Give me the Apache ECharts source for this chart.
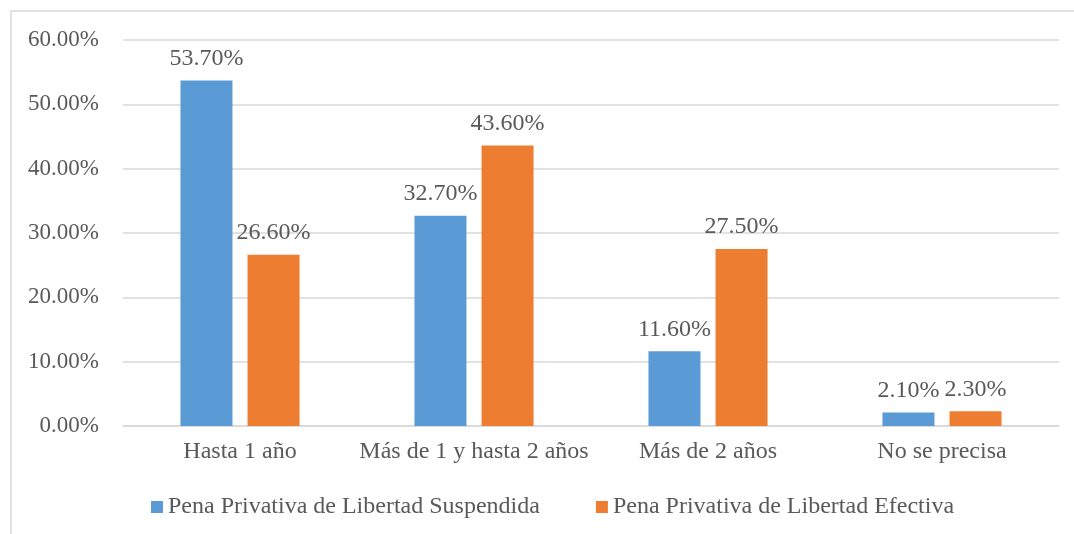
<!DOCTYPE html>
<html>
<head>
<meta charset="utf-8">
<script src="https://cdn.jsdelivr.net/npm/echarts@6/dist/echarts.min.js"></script>
<style>
  html, body { margin: 0; padding: 0; background: #fff; }
  #chart { width: 1074px; height: 534px; }
</style>
</head>
<body>
<div id="chart"></div>
<script>
const categories = ["Hasta 1 año", "Más de 1 y hasta 2 años", "Más de 2 años", "No se precisa"];
const suspendida = [53.7, 32.7, 11.6, 2.1];
const efectiva = [26.6, 43.6, 27.5, 2.3];
const seriesNames = ["Pena Privativa de Libertad Suspendida", "Pena Privativa de Libertad Efectiva"];

const font = "'Liberation Serif', 'Times New Roman', serif";
const textColor = "#595959";

let chart = echarts.init(document.getElementById("chart"));

let label = {
  show: true,
  position: "top",
  distance: 10,
  color: textColor,
  fontFamily: font,
  fontSize: 24,
  formatter: p => p.value.toFixed(2) + "%"
};

let option = {
  animation: false,
  textStyle: { fontFamily: font },
  graphic: [
    {
      type: "rect",
      shape: { x: 11, y: 11, width: 1200, height: 700 },
      style: { fill: "none", stroke: "#d9d9d9", lineWidth: 1.5 },
      silent: true
    }
  ],
  grid: { left: 123, right: 15, top: 40, bottom: 108 },
  legend: {
    left: 146,
    bottom: 10,
    itemWidth: 12,
    itemHeight: 12,
    itemGap: 56,
    icon: "rect",
    textStyle: { color: textColor, fontFamily: font, fontSize: 24 },
    data: seriesNames
  },
  xAxis: {
    type: "category",
    data: categories,
    axisLine: { lineStyle: { color: "#d9d9d9", width: 1.5 } },
    axisTick: { show: false },
    axisLabel: { interval: 0, color: textColor, fontFamily: font, fontSize: 24, margin: 14 }
  },
  yAxis: {
    type: "value",
    min: 0,
    max: 60,
    interval: 10,
    axisLine: { show: false },
    axisTick: { show: false },
    splitLine: { lineStyle: { color: "#d9d9d9", width: 1.5 } },
    axisLabel: {
      color: textColor,
      fontFamily: font,
      fontSize: 23,
      margin: 24,
      formatter: v => v.toFixed(2) + "%"
    }
  },
  series: [
    {
      name: seriesNames[0],
      type: "bar",
      data: suspendida,
      barWidth: 52,
      barGap: "29%",
      itemStyle: { color: "#5B9BD5" },
      label: label
    },
    {
      name: seriesNames[1],
      type: "bar",
      data: efectiva,
      barWidth: 52,
      itemStyle: { color: "#ED7D31" },
      label: label
    }
  ]
};

chart.setOption(option);
</script>
</body>
</html>
